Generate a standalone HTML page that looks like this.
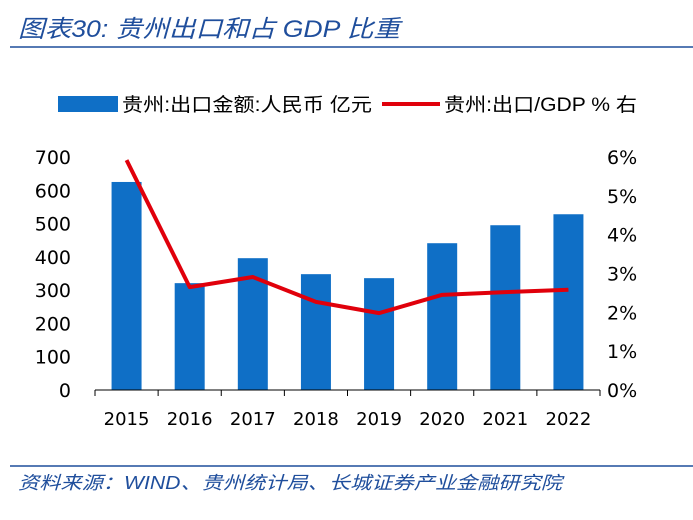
<!DOCTYPE html>
<html><head><meta charset="utf-8"><style>
body{margin:0;background:#fff;width:693px;height:515px;overflow:hidden;font-family:"Liberation Sans","Noto Sans CJK SC",sans-serif}
</style></head><body>
<svg width="693" height="515" xmlns="http://www.w3.org/2000/svg">
<text x="18" y="37" font-size="24" font-style="italic" fill="#1f4e9c" textLength="382" lengthAdjust="spacingAndGlyphs">图表30:  贵州出口和占 GDP 比重</text>
<line x1="10" y1="47" x2="693" y2="47" stroke="#1f4e9c" stroke-width="1.5"/>
<rect x="58" y="96" width="60" height="16" fill="#0f6fc6"/>
<text x="122" y="111" font-size="19" fill="#000" textLength="250" lengthAdjust="spacingAndGlyphs">贵州:出口金额:人民币 亿元</text>
<line x1="382" y1="104" x2="440" y2="104" stroke="#e0000b" stroke-width="4"/>
<text x="444" y="111" font-size="19" fill="#000" textLength="193" lengthAdjust="spacingAndGlyphs">贵州:出口/GDP % 右</text>
<g id="plot"></g>
<line x1="10" y1="466" x2="693" y2="466" stroke="#1f4e9c" stroke-width="1.5"/>
<text x="18" y="489" font-size="18" font-style="italic" fill="#1f4e9c" textLength="544" lengthAdjust="spacingAndGlyphs">资料来源：WIND、贵州统计局、长城证券产业金融研究院</text>
</svg>
<script>
const categories=["2015","2016","2017","2018","2019","2020","2021","2022"];
const exportValues=[625,321,396,348,336,441,495,528];
const ratioValues=[5.92,2.65,2.91,2.27,1.98,2.45,2.52,2.58];
const leftTicks=[0,100,200,300,400,500,600,700];
const rightTicks=[0,1,2,3,4,5,6];
const NS="http://www.w3.org/2000/svg";
const g=document.getElementById("plot");
const L=95,R=600,B=390,T=157;
const yL=v=>B-(v/700)*(B-T);
const yR=v=>B-(v/6)*(B-T);
const step=(R-L)/categories.length;
const xC=i=>L+step*(i+0.5);
const FF="DejaVu Sans, sans-serif";
function mk(tag,at,txt){const e=document.createElementNS(NS,tag);for(const k in at)e.setAttribute(k,at[k]);if(txt!==undefined)e.textContent=txt;g.appendChild(e);return e;}
categories.forEach((c,i)=>{
 const b=mk("rect",{x:xC(i)-15,y:yL(exportValues[i]),width:30,height:B-yL(exportValues[i]),fill:"#0f6fc6"});
 
 
 const t=mk("text",{x:xC(i),y:B+35,"font-size":18,"font-family":FF,"text-anchor":"middle",fill:"#000"},c);
 
 
});
const ax=mk("line",{x1:L,y1:B,x2:R,y2:B,stroke:"#000","stroke-width":1});


for(let i=0;i<=categories.length;i++){const tk=mk("line",{x1:L+step*i,y1:B,x2:L+step*i,y2:B+6,stroke:"#000"});
 
 }
leftTicks.forEach(v=>{const t=mk("text",{x:71,y:yL(v)+7,"font-size":19,"font-family":FF,"text-anchor":"end",fill:"#000"},String(v));
 
 });
rightTicks.forEach(v=>{const t=mk("text",{x:607,y:yR(v)+7,"font-size":19,"font-family":FF,fill:"#000"},v+"%");
 
 });
const pts=ratioValues.map((v,i)=>xC(i)+","+yR(v)).join(" ");
const pl=mk("polyline",{points:pts,fill:"none",stroke:"#e0000b","stroke-width":4,"stroke-linejoin":"round"});


</script>
</body></html>
